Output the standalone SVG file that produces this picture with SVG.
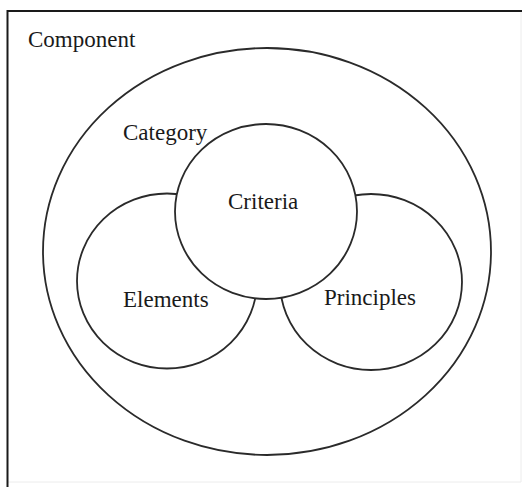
<svg xmlns="http://www.w3.org/2000/svg" width="522" height="487" viewBox="0 0 522 487">
  <style>
    .ring { fill: #ffffff; stroke: #2a2a2a; stroke-width: 1.8; }
    .lbl { font-family: "Liberation Serif", "Times New Roman", serif; font-size: 23px; fill: #1a1a1a; }
  </style>
  <rect x="0" y="0" width="522" height="487" fill="#ffffff"/>
  <g id="frame">
    <path d="M7.5 482 H521 V11" fill="none" stroke="#ececec" stroke-width="1"/>
    <path d="M7.5 487 V11 H522" fill="none" stroke="#1a1a1a" stroke-width="2"/>
  </g>
  <g id="component">
    <ellipse class="ring" cx="267" cy="251.5" rx="224" ry="203.5"/>
    <text class="lbl" x="28" y="47">Component</text>
  </g>
  <g id="category">
    <text class="lbl" x="123" y="140">Category</text>
  </g>
  <g id="elements">
    <ellipse class="ring" cx="167" cy="281" rx="90" ry="87.5"/>
    <text class="lbl" x="123" y="307">Elements</text>
  </g>
  <g id="principles">
    <ellipse class="ring" cx="371" cy="282" rx="91" ry="88"/>
    <text class="lbl" x="324" y="305">Principles</text>
  </g>
  <g id="criteria">
    <ellipse class="ring" cx="266" cy="211.5" rx="91" ry="87.5"/>
    <text class="lbl" x="228" y="209">Criteria</text>
  </g>
</svg>
